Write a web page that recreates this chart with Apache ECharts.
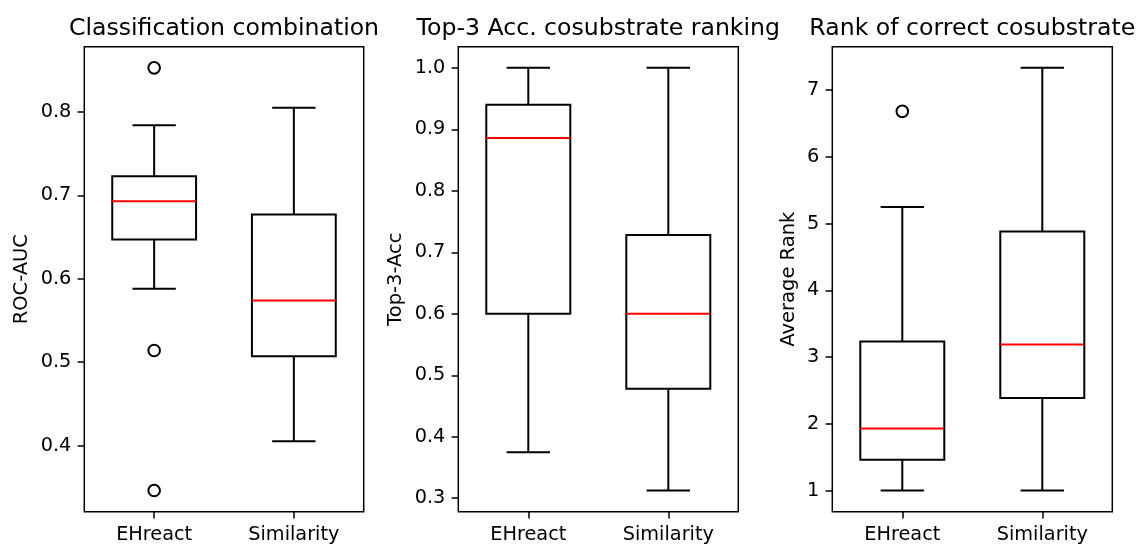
<!DOCTYPE html>
<html>
<head>
<meta charset="utf-8">
<script src="https://cdn.jsdelivr.net/npm/echarts@6/dist/echarts.min.js"></script>
<style>html,body{margin:0;padding:0;background:#fff;}#c{width:1136px;height:545px;}</style>
</head>
<body>
<div id="c"></div>
<script>
// ---- data ----
const categories = ['EHreact', 'Similarity'];

const titles = ['Classification combination', 'Top-3 Acc. cosubstrate ranking', 'Rank of correct cosubstrate'];
const yNames = ['ROC-AUC', 'Top-3-Acc', 'Average Rank'];

// Panel 1: ROC-AUC
const rocLow    = [0.588, 0.405];
const rocQ1     = [0.647, 0.507];
const rocMedian = [0.693, 0.574];
const rocQ3     = [0.723, 0.677];
const rocHigh   = [0.784, 0.805];
const rocOutliers = [['EHreact', 0.853], ['EHreact', 0.514], ['EHreact', 0.346]];
const rocTicks  = [0.4, 0.5, 0.6, 0.7, 0.8];

// Panel 2: Top-3 accuracy
const accLow    = [0.375, 0.3125];
const accQ1     = [0.600, 0.478];
const accMedian = [0.886, 0.600];
const accQ3     = [0.940, 0.728];
const accHigh   = [1.000, 1.000];
const accOutliers = [];
const accTicks  = [0.3, 0.4, 0.5, 0.6, 0.7, 0.8, 0.9, 1.0];

// Panel 3: Average rank
const rankLow    = [1.0, 1.0];
const rankQ1     = [1.46, 2.385];
const rankMedian = [1.93, 3.19];
const rankQ3     = [3.235, 4.88];
const rankHigh   = [5.25, 7.333];
const rankOutliers = [['EHreact', 6.68]];
const rankTicks  = [1, 2, 3, 4, 5, 6, 7];

const panels = [
  {low: rocLow, q1: rocQ1, med: rocMedian, q3: rocQ3, high: rocHigh, out: rocOutliers, ticks: rocTicks, dec: 1},
  {low: accLow, q1: accQ1, med: accMedian, q3: accQ3, high: accHigh, out: accOutliers, ticks: accTicks, dec: 1},
  {low: rankLow, q1: rankQ1, med: rankMedian, q3: rankQ3, high: rankHigh, out: rankOutliers, ticks: rankTicks, dec: 0}
];

// ---- layout ----
const FONT = 'DejaVu Sans';
const gridBoxes = [
  {left: 84.3, top: 46.7, width: 279.4, height: 465},
  {left: 458.3, top: 46.7, width: 280, height: 465},
  {left: 832.3, top: 46.7, width: 280, height: 465}
];
const nameGaps = [52, 52, 33];

function renderBox(params, api) {
  const x = api.value(0);
  const lo = api.coord([x, api.value(1)]);
  const q1 = api.coord([x, api.value(2)]);
  const md = api.coord([x, api.value(3)]);
  const q3 = api.coord([x, api.value(4)]);
  const hi = api.coord([x, api.value(5)]);
  const band = api.size([1, 0])[0];
  const bw = band * 0.6, cw = band * 0.31;
  const cx = lo[0];
  const st = {stroke: '#000', lineWidth: 2, fill: 'none'};
  return {
    type: 'group',
    children: [
      {type: 'line', shape: {x1: cx, y1: q1[1], x2: cx, y2: lo[1]}, style: st},
      {type: 'line', shape: {x1: cx, y1: q3[1], x2: cx, y2: hi[1]}, style: st},
      {type: 'line', shape: {x1: cx - cw / 2, y1: lo[1], x2: cx + cw / 2, y2: lo[1]}, style: st},
      {type: 'line', shape: {x1: cx - cw / 2, y1: hi[1], x2: cx + cw / 2, y2: hi[1]}, style: st},
      {type: 'rect', shape: {x: cx - bw / 2, y: q3[1], width: bw, height: q1[1] - q3[1]}, style: st},
      {type: 'line', shape: {x1: cx - bw / 2, y1: md[1], x2: cx + bw / 2, y2: md[1]}, style: {stroke: '#ff0000', lineWidth: 2}}
    ]
  };
}

const grid = [], xAxis = [], yAxis = [], series = [], graphic = [];
panels.forEach((p, i) => {
  const all = [].concat(p.low, p.high, p.out.map(o => o[1]));
  const dmin = Math.min.apply(null, all), dmax = Math.max.apply(null, all);
  const pad = (dmax - dmin) * 0.05;
  const g = gridBoxes[i];
  grid.push(Object.assign({show: true, borderColor: '#000', borderWidth: 1.5, backgroundColor: '#fff', containLabel: false}, g));
  xAxis.push({
    type: 'category', gridIndex: i, data: categories, boundaryGap: true,
    axisLine: {show: false},
    axisTick: {show: true, alignWithLabel: true, length: 6.7, lineStyle: {color: '#000', width: 1.5}},
    axisLabel: {color: '#000', fontSize: 19.3, fontFamily: FONT, margin: 14}
  });
  yAxis.push({
    type: 'value', gridIndex: i, min: dmin - pad, max: dmax + pad,
    name: yNames[i], nameLocation: 'middle', nameGap: nameGaps[i],
    nameTextStyle: {color: '#000', fontSize: 19.5, fontFamily: FONT},
    splitLine: {show: false},
    axisLine: {show: false},
    axisTick: {show: true, length: 6.7, customValues: p.ticks, lineStyle: {color: '#000', width: 1.5}},
    axisLabel: {color: '#000', fontSize: 19.3, fontFamily: FONT, margin: 13, customValues: p.ticks,
      formatter: v => Number(v).toFixed(p.dec)}
  });
  series.push({
    type: 'custom', xAxisIndex: i, yAxisIndex: i,
    renderItem: renderBox,
    encode: {x: 0, y: [1, 2, 3, 4, 5]},
    data: categories.map((c, k) => [k, p.low[k], p.q1[k], p.med[k], p.q3[k], p.high[k]]),
    z: 3
  });
  series.push({
    type: 'scatter', xAxisIndex: i, yAxisIndex: i,
    symbol: 'circle', symbolSize: 11.6,
    itemStyle: {color: 'rgba(0,0,0,0)', borderColor: '#000', borderWidth: 2, opacity: 1},
    data: p.out, z: 4
  });
  graphic.push({
    type: 'text', x: g.left + g.width / 2, y: 40.5,
    style: {text: titles[i], fill: '#000', font: '23.6px "DejaVu Sans"', textAlign: 'center', textVerticalAlign: 'bottom'}
  });
});

const chart = echarts.init(document.getElementById('c'), null, {renderer: 'canvas'});
chart.setOption({
  animation: false,
  backgroundColor: '#fff',
  grid, xAxis, yAxis, series, graphic
});
</script>
</body>
</html>
